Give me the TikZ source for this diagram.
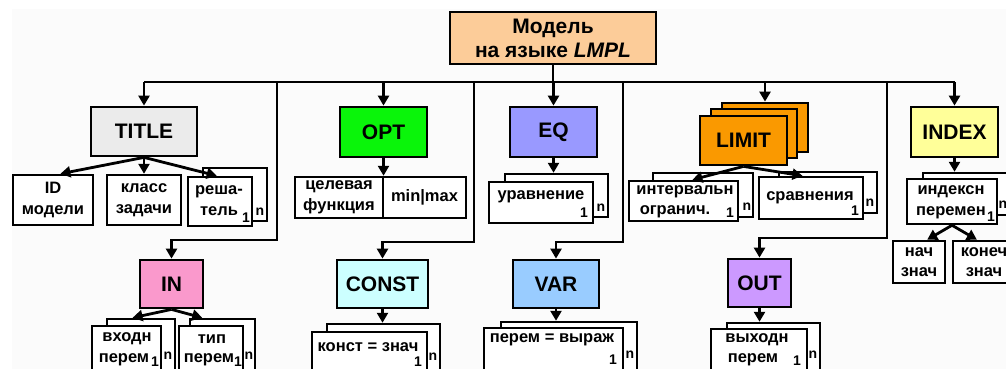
\documentclass[tikz,border=0pt]{standalone}
\usepackage{fontspec}
\setmainfont{Liberation Sans}
\usetikzlibrary{arrows.meta,calc}

\definecolor{paper}{RGB}{251,251,251}
\definecolor{rootfill}{RGB}{252,204,153}
\definecolor{titlefill}{RGB}{235,235,235}
\definecolor{optfill}{RGB}{10,245,10}
\definecolor{eqfill}{RGB}{153,153,255}
\definecolor{limitfill}{RGB}{250,153,0}
\definecolor{indexfill}{RGB}{255,255,153}
\definecolor{infill}{RGB}{250,153,204}
\definecolor{constfill}{RGB}{204,255,255}
\definecolor{varfill}{RGB}{153,204,255}
\definecolor{outfill}{RGB}{204,153,255}

\tikzset{
  conn/.style={line width=2.8pt},
  arr/.style={conn,-{Triangle[length=10pt,width=11pt]}},
  blk/.style={draw, line width=2.8pt, inner sep=0pt, align=center,
    font=\fontsize{21}{24}\selectfont\bfseries},
  card/.style={draw, fill=white, line width=2.5pt, inner sep=0pt, align=center,
    font=\fontsize{16.5}{20.5}\selectfont\bfseries},
  txt/.style={inner sep=0pt, align=center,
    font=\fontsize{16.5}{20.5}\selectfont\bfseries},
  sub/.style={inner sep=0pt, font=\fontsize{14}{14}\selectfont\bfseries},
}

% rectangle node given by its corners: [style]{x1}{y1}{x2}{y2}{name}{text}
\newcommand\rectnode[7][]{%
  \node[#1, minimum width={(#4)-(#2)}, minimum height={(#5)-(#3)}]
    (#6) at ({((#2)+(#4))/2},{((#3)+(#5))/2}) {#7};}

\begin{document}
\begin{tikzpicture}[x=1pt,y=-1pt]
\useasboundingbox (0,0) rectangle (1006,369);
\clip (0,0) rectangle (1006,369);
\fill[paper] (12,9) rectangle (1006,369);

% --- section blocks ---
\rectnode[blk,fill=rootfill]{450}{12}{656}{64}{root}{Модель\\на языке {\itshape LMPL}}
\rectnode[blk,fill=titlefill]{91}{107}{197}{156}{title}{TITLE}
\rectnode[blk,fill=optfill]{340}{107}{427}{157}{opt}{OPT}
\rectnode[blk,fill=eqfill]{510}{107}{597}{157}{eq}{EQ}
\rectnode[blk,fill=limitfill]{722}{103}{808}{152}{limit3}{}
\rectnode[blk,fill=limitfill]{711}{109}{797}{158}{limit2}{}
\rectnode[blk,fill=limitfill]{700}{116}{787}{165}{limit}{LIMIT}
\rectnode[blk,fill=indexfill]{911}{107}{998}{157}{index}{INDEX}
\rectnode[blk,fill=infill]{140}{260}{203}{308}{inp}{IN}
\rectnode[blk,fill=constfill]{337}{260}{428}{308}{const}{CONST}
\rectnode[blk,fill=varfill]{513}{260}{599}{308}{var}{VAR}
\rectnode[blk,fill=outfill]{728}{259}{791}{307}{outp}{OUT}

% --- TITLE items ---
\rectnode[card]{13}{175}{93}{225}{modelid}{ID\\модели}
\rectnode[card]{107}{175}{181}{225}{ptype}{класс\\задачи}
\rectnode[card]{203}{168}{267}{221}{solverb}{}
\rectnode[card]{188}{177}{252}{226}{solver}{}
\node[txt] (solver-t) at (219,200.5) {реша-\\тель};
\node[sub] (solver-1) at (246,218) {1};
\node[sub] (solver-n) at (260,212) {n};

% --- OPT item ---
\rectnode[card]{295}{177}{383}{218}{goal}{целевая\\функция}
\rectnode[card]{383}{177}{466}{218}{sense}{min|max}

% --- EQ item ---
\rectnode[card]{505}{174}{608}{217}{eqcb}{}
\rectnode[card]{489}{182}{593}{223}{eqc}{}
\node[txt] (eqc-t) at (541,197) {уравнение};
\node[sub] (eqc-1) at (584,213) {1};
\node[sub] (eqc-n) at (601,208) {n};

% --- LIMIT items ---
\rectnode[card]{653}{173}{753}{217}{intcb}{}
\rectnode[card]{629}{181}{738}{221}{intc}{}
\node[txt] (intc-t1) at (685,192) {интервальн};
\node[txt] (intc-t2) at (675,212) {огранич.};
\node[sub] (intc-1) at (730,213) {1};
\node[sub] (intc-n) at (747,207) {n};

\rectnode[card]{779}{172}{877}{213}{cmpcb}{}
\rectnode[card]{759}{177}{863}{219}{cmpc}{}
\node[txt] (cmpc-t) at (810,198) {сравнения};
\node[sub] (cmpc-1) at (855,211) {1};
\node[sub] (cmpc-n) at (870,203) {n};

% --- INDEX items ---
\rectnode[card]{923}{173}{1015}{215}{idxcb}{}
\rectnode[card]{907}{179}{997}{224}{idxc}{}
\node[txt] (idxc-t) at (951,202.5) {индексн\\перемен};
\node[sub] (idxc-1) at (991,217) {1};
\node[sub] (idxc-n) at (1003,205) {n};
\rectnode[card]{893}{241}{945}{283}{startv}{нач\\знач}
\rectnode[card]{953}{241}{1015}{283}{endv}{конеч\\знач}

% --- IN items ---
\rectnode[card]{107}{319}{175}{385}{invb}{}
\rectnode[card]{92}{326}{161}{392}{inv}{}
\node[txt] (inv-t1) at (127,339) {входн};
\node[txt] (inv-t2) at (124,360) {перем};
\node[sub] (inv-1) at (155,362) {1};
\node[sub] (inv-n) at (168,356) {n};

\rectnode[card]{190}{319}{255}{385}{intyb}{}
\rectnode[card]{179}{326}{243}{392}{inty}{}
\node[txt] (inty-t1) at (212,339) {тип};
\node[txt] (inty-t2) at (209,360) {перем};
\node[sub] (inty-1) at (238,362) {1};
\node[sub] (inty-n) at (249,356) {n};

% --- CONST item ---
\rectnode[card]{327}{324}{440}{385}{constcb}{}
\rectnode[card]{312}{332}{427}{392}{constc}{}
\node[txt] (constc-t) at (368,347) {конст = знач};
\node[sub] (constc-1) at (418,362) {1};
\node[sub] (constc-n) at (433,357) {n};

% --- VAR item ---
\rectnode[card]{501}{322}{637}{385}{varcb}{}
\rectnode[card]{484}{328}{623}{392}{varc}{}
\node[txt] (varc-t) at (552,340) {перем = выраж};
\node[sub] (varc-1) at (613,360) {1};
\node[sub] (varc-n) at (630,355) {n};

% --- OUT item ---
\rectnode[card]{727}{323}{820}{385}{outcb}{}
\rectnode[card]{711}{329}{807}{392}{outc}{}
\node[txt] (outc-t1) at (757,340) {выходн};
\node[txt] (outc-t2) at (753,360) {перем};
\node[sub] (outc-1) at (797,361) {1};
\node[sub] (outc-n) at (813,355) {n};

% --- distribution bus ---
\coordinate (busW) at (title.north |- 0,82);
\coordinate (busE) at (index.north |- 0,82);
\draw[conn] (busW) -- (busE);
\draw[conn] (root.south) -- (root.south |- busW);
\draw[arr] (busW) -- (title.north);
\draw[arr] (opt.north |- busW) -- (opt.north);
\draw[arr] (eq.north |- busW) -- (eq.north);
\draw[arr] (limit3.north |- busW) -- (limit3.north);
\draw[arr] (busE) -- (index.north);

\coordinate (kIN) at (277,240);
\coordinate (kCONST) at (474,242);
\coordinate (kVAR) at (623,242);
\coordinate (kOUT) at (887,238);
\draw[arr] (kIN |- busW) -- (kIN) -| (inp.north);
\draw[arr] (kCONST |- busW) -- (kCONST) -| (const.north);
\draw[arr] (kVAR |- busW) -- (kVAR) -| (var.north);
\draw[arr] (kOUT |- busW) -- (kOUT) -| (outp.north);

% --- block to item arrows ---
\draw[arr] (title.south) -- ($(modelid.north west)!0.59!(modelid.north east)$);
\draw[arr] (title.south) -- (ptype.north);
\draw[arr] (title.south) -- ($(solver.north west)!0.45!(solver.north east)$);
\draw[arr] (opt.south) -- (opt.south |- goal.north);
\draw[arr] (eq.south) -- (eq.south |- eqcb.north);
\draw[arr] (limit.south) -- ($(intc.north west)!0.58!(intc.north east)$);
\draw[arr] (limit.south) -- ($(cmpc.north west)!0.42!(cmpc.north east)$);
\draw[arr] (index.south) -- (index.south |- idxcb.north);
\draw[arr] (idxc.south) -- ($(startv.north west)!0.65!(startv.north east)$);
\draw[arr] (idxc.south) -- ($(endv.north west)!0.39!(endv.north east)$);
\draw[arr] (inp.south) -- ($(invb.north west)!0.38!(invb.north east)$);
\draw[arr] (inp.south) -- ($(intyb.north west)!0.2!(intyb.north east)$);
\draw[arr] (const.south) -- (const.south |- constcb.north);
\draw[arr] (var.south) -- (var.south |- varcb.north);
\draw[arr] (outp.south) -- (outp.south |- outcb.north);
\end{tikzpicture}
\end{document}
